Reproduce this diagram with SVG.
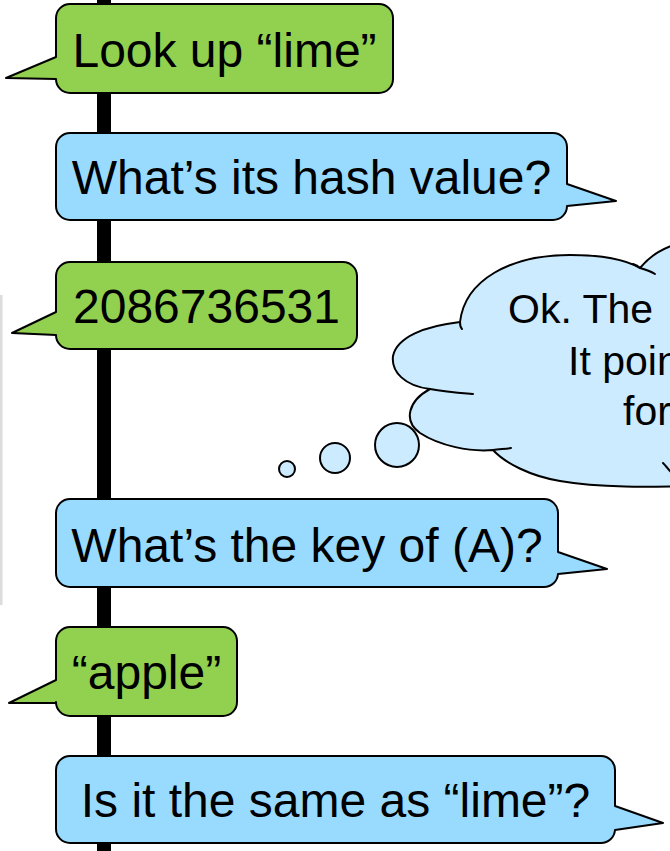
<svg xmlns="http://www.w3.org/2000/svg" width="670" height="851" viewBox="0 0 670 851">
<style>
.g{fill:#92D050;stroke:#000;stroke-width:2;stroke-linejoin:round}
.b{fill:#99DBFF;stroke:#000;stroke-width:2;stroke-linejoin:round}
.c{fill:#CCEBFF;stroke:#000;stroke-width:2;stroke-linejoin:round}
.h{fill:none;stroke:#000;stroke-width:2;stroke-linecap:round}
.t{font-family:"Liberation Sans",Arial,sans-serif;font-size:48px;fill:#000;text-anchor:middle}
.ct{font-family:"Liberation Sans",Arial,sans-serif;font-size:41px;fill:#000}
</style>
<rect x="0" y="0" width="670" height="851" fill="#fff"/>
<rect x="0" y="295" width="2.5" height="310" fill="#dcdcdc"/>
<g id="connectors">
<rect x="97" y="0" width="14" height="851" fill="#000"/>
</g>
<g id="n1">
<path class="g" d="M70,4 H379 A14,14 0 0 1 393,18 V79 A14,14 0 0 1 379,93 H70 A14,14 0 0 1 56,79 L6,78 L56,57 V18 A14,14 0 0 1 70,4 Z"/>
<text class="t" x="224.5" y="67">Look up “lime”</text>
</g>
<g id="n2">
<path class="b" d="M70,133 H553 A14,14 0 0 1 567,147 V184 L616,201 L567,206 V206 A14,14 0 0 1 553,220 H70 A14,14 0 0 1 56,206 V147 A14,14 0 0 1 70,133 Z"/>
<text class="t" x="311.5" y="194">What’s its hash value?</text>
</g>
<g id="n3">
<path class="g" d="M70,262 H343 A14,14 0 0 1 357,276 V335 A14,14 0 0 1 343,349 H70 A14,14 0 0 1 56,335 L12,333 L56,312 V276 A14,14 0 0 1 70,262 Z"/>
<text class="t" x="206.5" y="323">2086736531</text>
</g>
<g id="thought">
<path class="c" d="M460,322 C465,280 510,255 570,255 C605,255 628,261 640,268 C650,256 662,247 690,240 L690,486 C650,487 600,488 560,481 C530,476 505,463 493,450 C470,452 440,446 420,433 C403,421 408,401 430,389 C405,386 391,372 393,356 C397,337 425,326 460,322 Z"/>
<path class="h" d="M460,322 C460,326 461,328 462,329"/>
<path class="h" d="M640,268 C647,270 652,272 655,274"/>
<path class="h" d="M633,264 C636,265 638,266 640,268"/>
<path class="h" d="M430,389 C445,392 460,393 473,394"/>
<path class="h" d="M493,450 C500,449 505,449 511,448"/>
<path class="h" d="M663,463 C666,466 668,469 671,472"/>
<text class="ct" x="508" y="323">Ok. The</text>
<text class="ct" x="568" y="375">It poin</text>
<text class="ct" x="623" y="425">for</text>
<circle class="c" cx="397" cy="445" r="22" stroke-width="2.5"/>
<circle class="c" cx="335" cy="458" r="15" stroke-width="2.5"/>
<circle class="c" cx="287" cy="469" r="8" stroke-width="2.5"/>
</g>
<g id="n4">
<path class="b" d="M70,499 H544 A14,14 0 0 1 558,513 V552 L607,569 L558,574 A14,14 0 0 1 544,587 H70 A14,14 0 0 1 56,573 V513 A14,14 0 0 1 70,499 Z"/>
<text class="t" x="307" y="562">What’s the key of (A)?</text>
</g>
<g id="n5">
<path class="g" d="M70,627 H223 A14,14 0 0 1 237,641 V702 A14,14 0 0 1 223,716 H70 A14,14 0 0 1 56,702 V703 L9,703 L56,680 V641 A14,14 0 0 1 70,627 Z"/>
<text class="t" x="146.5" y="689">“apple”</text>
</g>
<g id="n6">
<path class="b" d="M70,756 H601 A14,14 0 0 1 615,770 V806 L663,823 L615,830 A14,14 0 0 1 601,843 H70 A14,14 0 0 1 56,829 V770 A14,14 0 0 1 70,756 Z"/>
<text class="t" x="335.5" y="817">Is it the same as “lime”?</text>
</g>
</svg>
